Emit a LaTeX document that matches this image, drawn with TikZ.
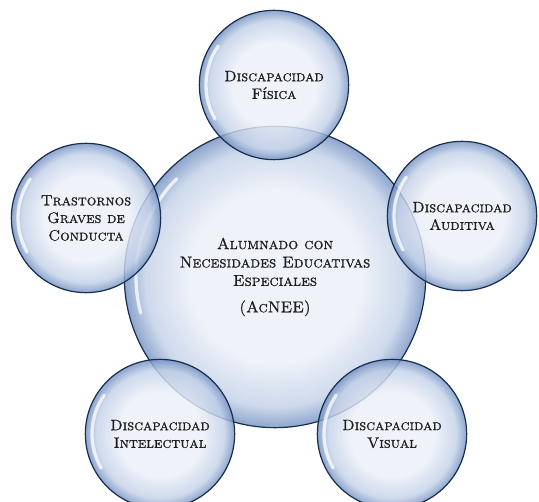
\documentclass[tikz,border=0pt]{standalone}
\usepackage{fontspec}
\newfontfamily\bubfont{lmroman10-regular.otf}[SmallCapsFont=lmromancaps10-regular.otf, SmallCapsFeatures={FakeBold=0.9}]

\definecolor{bubin}{HTML}{ECF0F8}
\definecolor{bubmid}{HTML}{C3D1E8}
\definecolor{bubout}{HTML}{7592C2}
\definecolor{bubline}{HTML}{182E50}
\definecolor{bubtext}{HTML}{1E1E1E}

\pgfdeclareradialshading{bubble}{\pgfpoint{0bp}{0bp}}{color(0bp)=(bubin); color(14bp)=(bubin); color(21.5bp)=(bubmid); color(25bp)=(bubout); color(50bp)=(bubout)}

\tikzset{every picture/.style={line width=0.75pt}}
\tikzset{
  bubbleshape/.style={circle, shading=bubble, draw=bubline, line width=0.9pt,
    fill opacity=0.82, draw opacity=1, text opacity=1, text=bubtext,
    align=center, inner sep=0pt, outer sep=0pt},
  smallbub/.style={bubbleshape, minimum size=112pt,
    font=\bubfont\fontsize{11.3}{13.2}\selectfont\scshape},
  bigbub/.style={bubbleshape, minimum size=226pt,
    font=\bubfont\fontsize{11.8}{13.8}\selectfont\scshape},
  gloss/.style={white, line width=2.5pt, opacity=0.75, line cap=round}
}

\begin{document}
\begin{tikzpicture}[x=0.75pt,y=0.75pt,yscale=-1,xscale=1]
\useasboundingbox (0,0) rectangle (539,502);

%Shape: Circle (centre)
\node [bigbub] (acnee) at (275,277) {Alumnado con\\Necesidades Educativas\\Especiales\\[6pt](AcNEE)};
\draw [gloss] (acnee.center) ++(165:139) arc [start angle=165, end angle=225, radius=139];

%Shape: Circle (top)
\node [smallbub] (fisica) at (274,85) {Discapacidad\\Física};
\draw [gloss] (fisica.center) ++(150:68) arc [start angle=150, end angle=215, radius=68];

%Shape: Circle (right)
\node [smallbub] (auditiva) at (462,216) {Discapacidad\\Auditiva};
\draw [gloss] (auditiva.center) ++(150:68) arc [start angle=150, end angle=215, radius=68];

%Shape: Circle (bottom right)
\node [smallbub] (visual) at (392,434) {Discapacidad\\Visual};
\draw [gloss] (visual.center) ++(150:68) arc [start angle=150, end angle=215, radius=68];

%Shape: Circle (bottom left)
\node [smallbub] (intelectual) at (160,434) {Discapacidad\\Intelectual};
\draw [gloss] (intelectual.center) ++(150:68) arc [start angle=150, end angle=215, radius=68];

%Shape: Circle (left)
\node [smallbub] (trastornos) at (86,218) {Trastornos\\Graves de\\Conducta};
\draw [gloss] (trastornos.center) ++(150:68) arc [start angle=150, end angle=215, radius=68];

\end{tikzpicture}
\end{document}
